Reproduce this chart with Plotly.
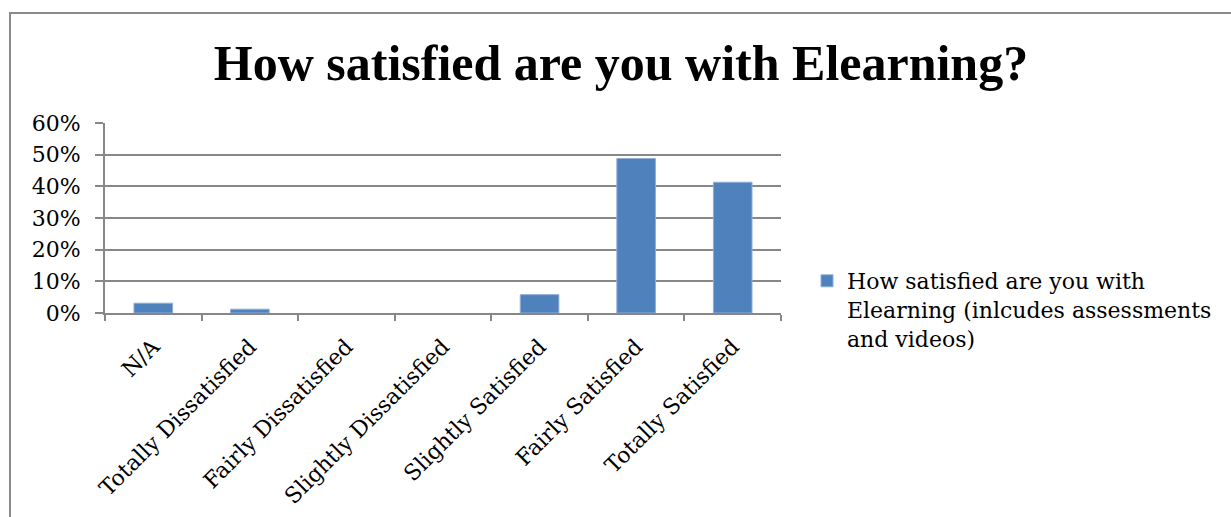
import plotly.graph_objects as go

categories = ["N/A", "Totally Dissatisfied", "Fairly Dissatisfied", "Slightly Dissatisfied",
              "Slightly Satisfied", "Fairly Satisfied", "Totally Satisfied"]
values = [0.031, 0.012, 0.0, 0.0, 0.058, 0.488, 0.413]
series_name = "How satisfied are you with<br>Elearning (inlcudes assessments<br>and videos)"
title_text = "How satisfied are you with Elearning?"
y_ticks = [0, 0.1, 0.2, 0.3, 0.4, 0.5, 0.6]

W, H = 1231, 517
L, R, T, B = 105, 781, 123, 313  # plot area pixels

def px_x(x):
    return (x - L) / (R - L)

def px_y(y):
    return (B - y) / (B - T)

fig = go.Figure()
fig.add_trace(go.Bar(
    x=categories, y=values, name=series_name,
    marker=dict(color="#4F81BD",
                line=dict(color="#8FAFD8", width=[1 if v > 0 else 0 for v in values])),
    showlegend=True,
))

grid = "#878787"
fig.update_layout(
    width=W, height=H,
    margin=dict(l=L, r=W - R, t=T, b=H - B, pad=0, autoexpand=False),
    paper_bgcolor="white", plot_bgcolor="white",
    bargap=0.6,
    font=dict(family="DejaVu Serif", size=22, color="black"),
    title=dict(text="<b>" + title_text + "</b>", x=621 / W, xanchor="center",
               y=1 - 62 / H, yanchor="middle",
               font=dict(family="Liberation Serif", size=50, color="black")),
    xaxis=dict(type="category", tickangle=-45, ticks="outside", tickson="boundaries",
               ticklen=6, tickcolor=grid, tickwidth=2, showline=True, linecolor=grid,
               linewidth=2, showgrid=False, ticklabelstandoff=10, automargin=False,
               tickfont=dict(family="DejaVu Serif", size=22, color="black")),
    yaxis=dict(range=[0, 0.6], tickvals=y_ticks, tickformat=".0%", ticks="outside",
               ticklen=8, tickcolor=grid, tickwidth=2, showline=True, linecolor=grid,
               linewidth=2, showgrid=True, gridcolor=grid, gridwidth=2, zeroline=False,
               ticklabelstandoff=10, automargin=False,
               tickfont=dict(family="DejaVu Serif", size=22, color="black")),
    legend=dict(x=px_x(807), y=px_y(260), xanchor="left", yanchor="top", valign="top",
                font=dict(family="DejaVu Serif", size=22, color="black"),
                bgcolor="rgba(0,0,0,0)", tracegroupgap=0),
    shapes=[dict(type="rect", xref="paper", yref="paper",
                 x0=px_x(10), x1=px_x(1300), y0=px_y(13), y1=px_y(600),
                 line=dict(color="#8A8A8A", width=2), fillcolor="rgba(0,0,0,0)", layer="below")],
)

fig.write_html("out.html")
